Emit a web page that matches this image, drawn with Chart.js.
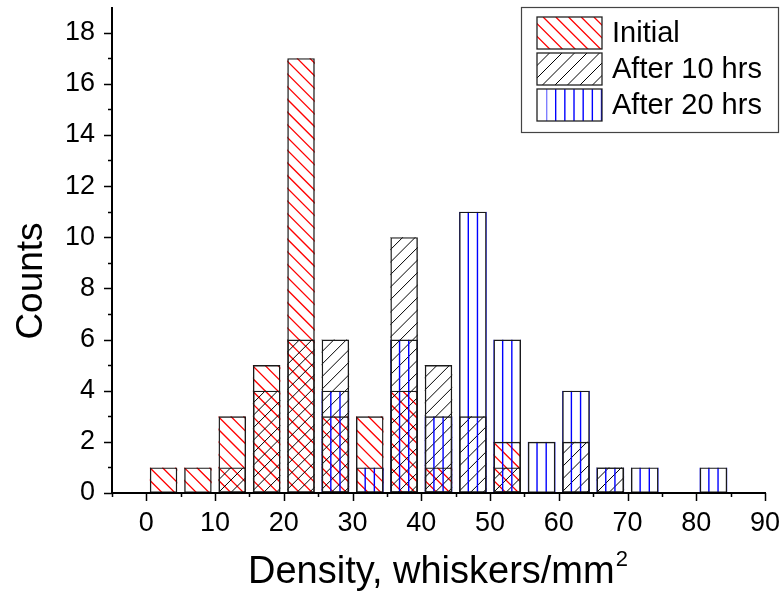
<!DOCTYPE html>
<html><head><meta charset="utf-8">
<script src="https://cdn.jsdelivr.net/npm/chart.js@4/dist/chart.umd.min.js"></script>
<style>html,body{margin:0;padding:0;background:#fff}#wrap{width:784px;height:591px;position:relative}</style>
</head><body><div id="wrap"><canvas id="c" width="784" height="591"></canvas></div>
<script>
// ---- data ----
const binCenters = [2.5, 7.5, 12.5, 17.5, 22.5, 27.5, 32.5, 37.5, 42.5, 47.5, 52.5, 57.5, 62.5, 67.5, 72.5, 77.5, 82.5];
const initialCounts = [1, 1, 3, 5, 17, 3, 3, 4, 1, 0, 2, 0, 0, 0, 0, 0, 0];
const after10Counts = [0, 0, 1, 4, 6, 6, 0, 10, 5, 3, 1, 0, 2, 1, 0, 0, 0];
const after20Counts = [0, 0, 0, 0, 0, 4, 1, 6, 3, 11, 6, 2, 4, 1, 1, 0, 1];
const seriesNames = ['Initial', 'After 10 hrs', 'After 20 hrs'];
const xTickValues = [0, 10, 20, 30, 40, 50, 60, 70, 80, 90];
const yTickValues = [0, 2, 4, 6, 8, 10, 12, 14, 16, 18];
const xTitle = 'Density, whiskers/mm';
const xTitleSup = '2';
const yTitle = 'Counts';

const FONT = "'Liberation Sans', Arial, sans-serif";
const hatchKinds = ['red', 'black', 'blue'];

function toPoints(counts) {
  const pts = [];
  counts.forEach((c, i) => { if (c > 0) pts.push({ x: binCenters[i], y: c }); });
  return pts;
}

function drawHatch(ctx, kind, left, top, w, h) {
  ctx.save();
  ctx.beginPath();
  ctx.rect(left, top, w, h);
  ctx.clip();
  ctx.beginPath();
  if (kind === 'red') {
    const P = 12.7;
    for (let c = -h - P; c <= w + P; c += P) {
      ctx.moveTo(left + c, top);
      ctx.lineTo(left + c + h + 2, top + h + 2);
    }
    ctx.strokeStyle = '#ff0000';
    ctx.lineWidth = 1.3;
  } else if (kind === 'black') {
    const P = 12.5;
    const bottom = top + h;
    for (let c = -h - P; c <= w + P; c += P) {
      ctx.moveTo(left + c, bottom);
      ctx.lineTo(left + c + h + 2, bottom - h - 2);
    }
    ctx.strokeStyle = '#000000';
    ctx.lineWidth = 1;
  } else {
    const P = 9.17;
    for (let x = left; x <= left + w + 0.5; x += P) {
      ctx.moveTo(x, top);
      ctx.lineTo(x, top + h);
    }
    ctx.strokeStyle = '#0000ff';
    ctx.lineWidth = 1.4;
  }
  ctx.stroke();
  ctx.restore();
}

const hatchPlugin = {
  id: 'hatch',
  beforeDatasetsDraw(chart) {
    const ctx = chart.ctx;
    const area = chart.chartArea;
    ctx.save();
    ctx.beginPath();
    ctx.rect(area.left, area.top - 2, area.right - area.left, area.bottom - area.top + 2);
    ctx.clip();
    chart.data.datasets.forEach((ds, i) => {
      const meta = chart.getDatasetMeta(i);
      meta.data.forEach(el => {
        const left = el.x - el.width / 2;
        const top = Math.min(el.y, el.base);
        const h = Math.abs(el.base - el.y);
        drawHatch(ctx, hatchKinds[i], left, top, el.width, h);
      });
    });
    ctx.restore();
  }
};

const decorPlugin = {
  id: 'decor',
  afterDraw(chart) {
    const ctx = chart.ctx;
    const xs = chart.scales.x, ys = chart.scales.y;
    const a = chart.chartArea;
    ctx.save();
    // axis lines
    ctx.strokeStyle = '#000';
    ctx.lineWidth = 2;
    ctx.beginPath();
    ctx.moveTo(a.left, a.top);
    ctx.lineTo(a.left, a.bottom + 1);
    ctx.moveTo(a.left - 1, a.bottom);
    ctx.lineTo(a.right + 1, a.bottom);
    ctx.stroke();
    // ticks
    ctx.lineWidth = 1.5;
    ctx.beginPath();
    for (let v = -5; v <= 90; v += 5) {
      const px = Math.round(xs.getPixelForValue(v)) + 0.5;
      const len = (v % 10 === 0) ? 8 : 4;
      ctx.moveTo(px, a.bottom);
      ctx.lineTo(px, a.bottom + len);
    }
    for (let v = 0; v <= 18; v += 1) {
      const py = Math.round(ys.getPixelForValue(v)) + 0.5;
      const len = (v % 2 === 0) ? 8 : 4;
      ctx.moveTo(a.left, py);
      ctx.lineTo(a.left - len, py);
    }
    ctx.stroke();

    // axis titles
    ctx.fillStyle = '#000';
    ctx.font = '38px ' + FONT;
    ctx.textBaseline = 'alphabetic';
    ctx.textAlign = 'left';
    const mainW = ctx.measureText(xTitle).width;
    ctx.font = '22px ' + FONT;
    const supW = ctx.measureText(xTitleSup).width;
    const startX = 248;
    ctx.font = '38px ' + FONT;
    ctx.fillText(xTitle, startX, 583);
    ctx.font = '22px ' + FONT;
    ctx.fillText(xTitleSup, startX + mainW + 1, 566);

    ctx.save();
    ctx.translate(42, 281);
    ctx.rotate(-Math.PI / 2);
    ctx.font = '37px ' + FONT;
    ctx.textAlign = 'center';
    ctx.fillText(yTitle, 0, 0);
    ctx.restore();

    // legend
    const lx = 521, ly = 7, lw = 257, lh = 125;
    ctx.fillStyle = '#fff';
    ctx.fillRect(lx, ly, lw, lh);
    ctx.strokeStyle = '#444';
    ctx.lineWidth = 1.2;
    ctx.strokeRect(lx + 0.5, ly + 0.5, lw, lh);
    const swTops = [17, 53, 89];
    const swX = 537, swW = 65, swH = 32;
    ctx.font = '29px ' + FONT;
    ctx.textAlign = 'left';
    ctx.textBaseline = 'middle';
    seriesNames.forEach((name, i) => {
      const t = swTops[i];
      if (hatchKinds[i] === 'blue') {
        drawHatch(ctx, 'blue', swX + 9.5, t, swW - 9.5, swH);
      } else {
        drawHatch(ctx, hatchKinds[i], swX, t, swW, swH);
      }
      ctx.strokeStyle = '#222';
      ctx.lineWidth = 1.3;
      ctx.strokeRect(swX, t, swW, swH);
      ctx.fillStyle = '#000';
      ctx.fillText(name, 612, t + swH / 2 + 1);
    });
    ctx.restore();
  }
};

const barCommon = {
  backgroundColor: 'rgba(0,0,0,0)',
  borderColor: '#1a1a1a',
  borderWidth: 1.4,
  borderSkipped: false,
  grouped: false,
  barPercentage: 0.8,
  categoryPercentage: 1.0
};

new Chart(document.getElementById('c'), {
  type: 'bar',
  data: {
    datasets: [
      Object.assign({ label: seriesNames[0], data: toPoints(initialCounts) }, barCommon),
      Object.assign({ label: seriesNames[1], data: toPoints(after10Counts) }, barCommon),
      Object.assign({ label: seriesNames[2], data: toPoints(after20Counts) }, barCommon)
    ]
  },
  options: {
    responsive: false,
    animation: false,
    devicePixelRatio: 1,
    layout: { padding: { left: 0, top: 7, right: 19, bottom: 0 } },
    plugins: { legend: { display: false }, tooltip: { enabled: false } },
    scales: {
      x: {
        type: 'linear',
        min: -5, max: 90,
        offset: false,
        grid: { display: false, drawTicks: false },
        border: { display: false },
        afterBuildTicks: s => { s.ticks = xTickValues.map(v => ({ value: v })); },
        afterFit: s => { s.height = 98; s.paddingLeft = 0; s.paddingRight = 0; s.paddingTop = 0; s.paddingBottom = 0; },
        ticks: { color: '#000', font: { family: FONT, size: 27 }, padding: 14, maxRotation: 0, autoSkip: false }
      },
      y: {
        type: 'linear',
        min: 0, max: 19,
        grid: { display: false, drawTicks: false },
        border: { display: false },
        afterBuildTicks: s => { s.ticks = yTickValues.map(v => ({ value: v })); },
        afterFit: s => { s.width = 112; s.paddingLeft = 0; s.paddingRight = 0; s.paddingTop = 0; s.paddingBottom = 0; },
        ticks: { color: '#000', font: { family: FONT, size: 27 }, padding: 17, autoSkip: false }
      }
    }
  },
  plugins: [hatchPlugin, decorPlugin]
});
</script>
</body></html>
